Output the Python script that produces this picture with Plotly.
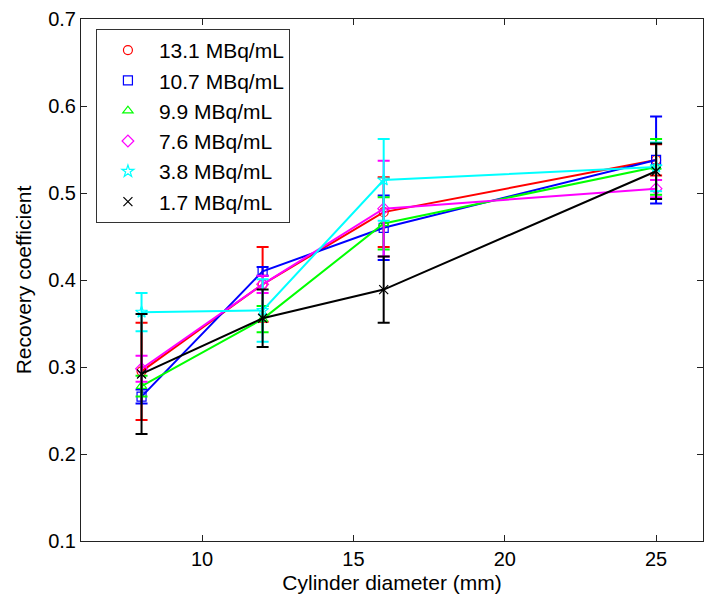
import plotly.graph_objects as go

diam = [8, 12, 16, 25]
names = ["13.1 MBq/mL", "10.7 MBq/mL", "9.9 MBq/mL", "7.6 MBq/mL", "3.8 MBq/mL", "1.7 MBq/mL"]
rc_131 = [0.295, 0.395, 0.478, 0.538]
er_131 = [0.056, 0.043, 0.040, 0.018]
rc_107 = [0.266, 0.410, 0.460, 0.538]
er_107 = [0.008, 0.005, 0.037, 0.050]
rc_99 = [0.278, 0.355, 0.465, 0.530]
er_99 = [0.012, 0.015, 0.030, 0.032]
rc_76 = [0.298, 0.395, 0.482, 0.505]
er_76 = [0.015, 0.010, 0.055, 0.010]
rc_38 = [0.363, 0.365, 0.515, 0.530]
er_38 = [0.022, 0.036, 0.047, 0.028]
rc_17 = [0.292, 0.356, 0.389, 0.525]
er_17 = [0.069, 0.033, 0.038, 0.032]

series = [rc_131, rc_107, rc_99, rc_76, rc_38, rc_17]
errors = [er_131, er_107, er_99, er_76, er_38, er_17]
colors = ["#ff0000", "#0000ff", "#00ff00", "#ff00ff", "#00ffff", "#000000"]
symbols = ["circle-open", "square-open", "triangle-up-open", "diamond-open", "star-open", "x-thin-open"]

FONT = "Liberation Sans, Arial, sans-serif"

fig = go.Figure()
for name, y, e, c, s in zip(names, series, errors, colors, symbols):
    fig.add_trace(go.Scatter(
        x=diam, y=y, mode="lines", line=dict(color=c, width=2),
        showlegend=False, hoverinfo="skip"))
    fig.add_trace(go.Scatter(
        x=diam, y=y, mode="markers", name=name,
        marker=dict(symbol=s, size=9, color=c, line=dict(color=c, width=1.2)),
        error_y=dict(type="data", array=e, visible=True, color=c, thickness=2, width=6)))

axis_common = dict(
    showline=True, linecolor="#222222", linewidth=1, mirror="ticks",
    ticks="inside", ticklen=6, tickcolor="#222222", tickwidth=1,
    showgrid=False, zeroline=False,
    tickfont=dict(family=FONT, size=20, color="#000000"),
)

fig.update_layout(
    width=705, height=601,
    margin=dict(l=81, r=2, t=19, b=60),
    paper_bgcolor="white", plot_bgcolor="white",
    font=dict(family=FONT, size=20, color="#000000"),
    xaxis=dict(range=[6, 26.55], tickvals=[10, 15, 20, 25],
               title=dict(text="Cylinder diameter (mm)", font=dict(family=FONT, size=21), standoff=6),
               **axis_common),
    yaxis=dict(range=[0.1, 0.7], tickvals=[0.1, 0.2, 0.3, 0.4, 0.5, 0.6, 0.7],
               tickformat=".1f",
               title=dict(text="Recovery coefficient", font=dict(family=FONT, size=21), standoff=10),
               **axis_common),
    legend=dict(x=0.024, y=0.981, xanchor="left", yanchor="top",
                bgcolor="white", bordercolor="#333333", borderwidth=1,
                font=dict(family=FONT, size=21), itemwidth=52,
                tracegroupgap=0),
    showlegend=True,
)

fig.write_html("out.html")
